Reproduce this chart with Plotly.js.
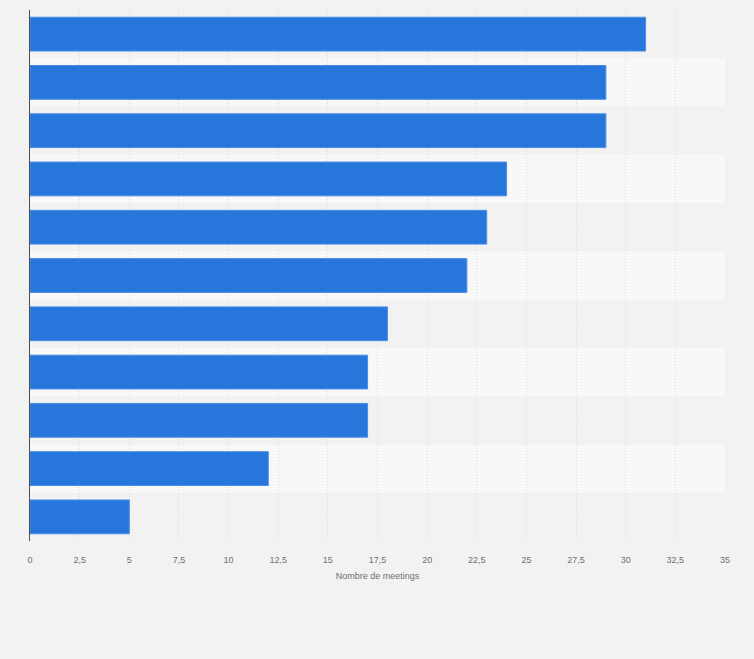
<!DOCTYPE html>
<html>
<head>
<meta charset="utf-8">
<script src="https://cdn.plot.ly/plotly-3.0.1.min.js"></script>
<style>
  html, body { margin: 0; padding: 0; background: #f2f2f2; }
  #chart { width: 754px; height: 659px; }
</style>
</head>
<body>
<div id="chart"></div>
<script>
// category labels are not shown in the picture, only the order matters
const categories = ['1', '2', '3', '4', '5', '6', '7', '8', '9', '10', '11'];
const meetings = [31, 29, 29, 24, 23, 22, 18, 17, 17, 12, 5];
const xTicks = [0, 2.5, 5, 7.5, 10, 12.5, 15, 17.5, 20, 22.5, 25, 27.5, 30, 32.5, 35];

// alternating row bands behind the bars
const stripes = categories.map((c, i) => ({
    type: 'rect',
    layer: 'below',
    xref: 'paper',
    yref: 'y',
    x0: 0,
    x1: 1,
    y0: i - 0.5,
    y1: i + 0.5,
    fillcolor: i % 2 === 0 ? '#f2f2f2' : '#f8f8f8',
    line: { width: 0 }
}));

const trace = {
    type: 'bar',
    orientation: 'h',
    x: meetings,
    y: categories,
    width: 0.7,
    marker: {
        color: '#2776dc',
        line: { color: '#4a8de4', width: 1 }
    },
    hoverinfo: 'x'
};

const layout = {
    width: 754,
    height: 659,
    margin: { l: 30, r: 29, t: 10, b: 118 },
    paper_bgcolor: '#f2f2f2',
    plot_bgcolor: '#f2f2f2',
    separators: ', ',
    showlegend: false,
    font: { family: 'Liberation Sans, Arial, sans-serif', color: '#707070', size: 9 },
    shapes: stripes,
    xaxis: {
        range: [0, 35],
        tickvals: xTicks,
        tickformat: '.1~f',
        showgrid: true,
        gridcolor: '#d9d9d9',
        griddash: '1px,2px',
        gridwidth: 1,
        zeroline: false,
        showline: false,
        ticks: 'outside',
        ticklen: 10,
        tickcolor: 'rgba(0,0,0,0)',
        tickfont: { size: 9, color: '#707070' },
        title: {
            text: 'Nombre de meetings',
            font: { size: 9, color: '#707070' },
            standoff: 8
        },
        fixedrange: true
    },
    yaxis: {
        type: 'category',
        autorange: 'reversed',
        showticklabels: false,
        showgrid: false,
        zeroline: false,
        showline: true,
        linecolor: '#4d4d4d',
        linewidth: 1.5,
        ticks: '',
        fixedrange: true
    },
    bargap: 0.3
};

Plotly.newPlot('chart', [trace], layout, { displayModeBar: false, staticPlot: true });
</script>
</body>
</html>
